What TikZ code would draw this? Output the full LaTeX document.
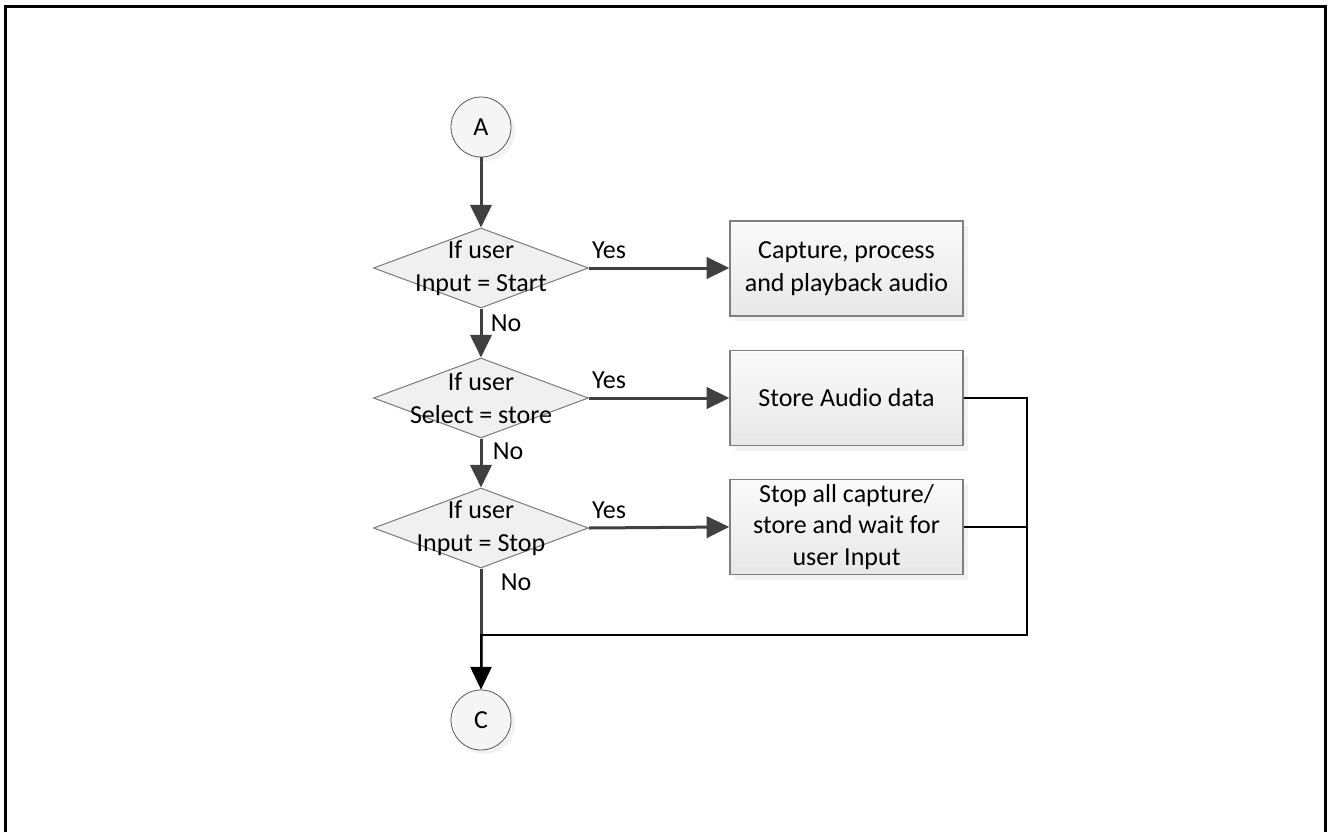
\documentclass[tikz,border=0pt]{standalone}
\usepackage{fontspec}
\setmainfont{Carlito}
\usetikzlibrary{shapes.geometric,arrows.meta,shadows}
\definecolor{edgegray}{HTML}{7F7F7F}
\definecolor{flowgray}{HTML}{404040}
\begin{document}
\begin{tikzpicture}[x=0.75pt,y=-0.75pt,
  every node/.style={font=\fontsize{19.5}{25}\selectfont},
  decision/.style={diamond, draw=edgegray, line width=0.8pt, fill=black!6,
    minimum width=161.25pt, minimum height=60pt, inner sep=0pt},
  process/.style={rectangle, draw=edgegray, line width=1pt,
    top color=black!2, bottom color=black!9,
    minimum width=174.75pt, minimum height=71.25pt, align=center,
    drop shadow={shadow xshift=4pt, shadow yshift=-4pt, fill=black!10}},
  terminal/.style={circle, draw=black!65, line width=0.6pt, fill=black!4,
    minimum size=45pt, inner sep=0pt,
    drop shadow={shadow xshift=3pt, shadow yshift=-3pt, fill=black!10}},
  flow/.style={line width=2.25pt, draw=flowgray,
    -{Triangle[length=17pt,width=16pt,fill=flowgray]}},
  link/.style={line width=0.9pt, draw=black},
]
\useasboundingbox (0,0) rectangle (1328,832);

% page frame
\draw[line width=2.25pt] (5,832) -- (5,6) -- (1325,6) -- (1325,832);

% shapes
\node[terminal] (A) at (481,127) {A};
\node[decision] (d1) at (481,268) {};
\node[align=center] (t1) at (481,268) {If user\\Input = Start};
\node[decision] (d2) at (481,398) {};
\node[align=center] (t2) at (481,398) {If user\\Select = store};
\node[decision] (d3) at (481,528) {};
\node[align=center] (t3) at (481,528) {If user\\Input = Stop};
\node[terminal] (C) at (481,720) {C};

\node[process] (b1) at (846.5,268.5) {Capture, process\\and playback audio};
\node[process] (b2) at (846.5,398) {Store Audio data};
\node[process, font=\fontsize{19.5}{23.5}\selectfont] (b3) at (846.5,527)
  {Stop all capture/\\store and wait for\\user Input};

% branch labels
\node (y1) at (609,250) {Yes};
\node (y2) at (609,380) {Yes};
\node (y3) at (609,510) {Yes};
\node (n1) at (506,323) {No};
\node (n2) at (508,451) {No};
\node (n3) at (516,582) {No};

% main flow
\draw[flow] (A) -- (d1.north);
\draw[flow] (d1.south) -- (d2.north);
\draw[flow] (d2.south) -- (d3.north);
\draw[flow] (d1.east) -- (d1.east -| b1.west);
\draw[flow] (d2.east) -- (b2.west);
\draw[flow] (d3.east) -- (b3.west);
\draw[line width=2.25pt, draw=flowgray, shorten >=16pt] (d3.south) -- (C.north);

% return path into C
\coordinate (rt) at (1027,635);
\draw[link] (b3.east) -- (b3.east -| rt);
\draw[link, -{Triangle[length=17pt,width=16pt,fill=black]}]
  (b2.east) -| (rt) -- (rt -| C) -- (C.north);
\end{tikzpicture}
\end{document}
